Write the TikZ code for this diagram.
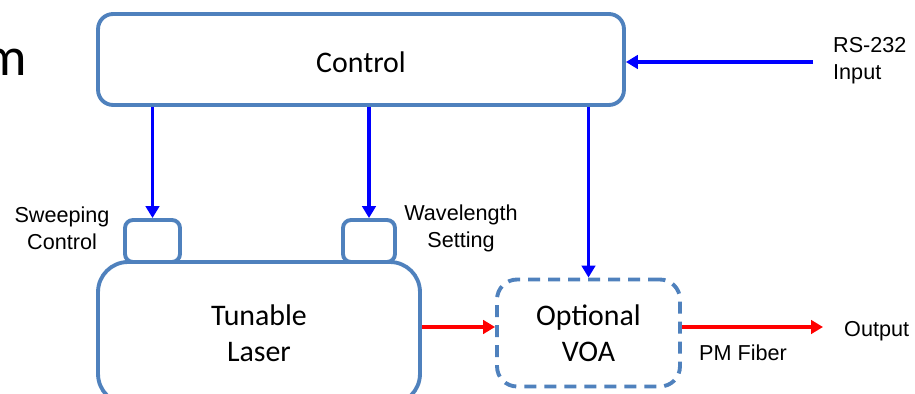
\documentclass[tikz,border=0pt]{standalone}
\usepackage{fontspec}
\setmainfont{Carlito}
\newfontfamily\labelfont{Liberation Sans}
\usepackage{tikz}
\usetikzlibrary{positioning, calc, arrows.meta}

\definecolor{boxblue}{HTML}{4F81BD}

\tikzset{
  blockbox/.style={draw=boxblue, line width=2.2pt, fill=white, align=center,
    font=\fontsize{17}{20.5}\selectfont},
  portbox/.style={draw=boxblue, line width=2.2pt, fill=white, rounded corners=0.16cm,
    minimum height=0.84cm},
  ctrlarrow/.style={draw={rgb,255:red,0;green,0;blue,255}, line width=2pt,
    -{Triangle[length=0.24cm,width=0.27cm]}},
  fiberarrow/.style={draw={rgb,255:red,255;green,0;blue,0}, line width=2pt,
    -{Triangle[length=0.24cm,width=0.27cm]}},
  smalltext/.style={font=\labelfont\fontsize{12.3}{15.3}\selectfont, align=center}
}

\begin{document}
\begin{tikzpicture}[x=0.02cm, y=-0.02cm]
                \useasboundingbox (0,0) rectangle (915,394);
                \clip (0,0) rectangle (915,394);
                % cut-off title on the left
                \node[anchor=base east, inner sep=0pt, font=\fontsize{31}{36}\selectfont] (title) at (27,76) {m};
                % blocks
                \node[blockbox, rounded corners=0.3cm, text height=15pt, minimum width=10.52cm, minimum height=1.82cm] (ctrl) at (361,59.5) {Control};
                \node[blockbox, rounded corners=0.6cm, minimum width=6.44cm, minimum height=2.84cm] (laser) at (259,333) {Tunable\\Laser};
                \node[portbox, minimum width=1.1cm] (sweep) at (152.5,241) {};
                \node[portbox, minimum width=1.04cm] (wave) at (369,241) {};
                \node[blockbox, rounded corners=0.4cm, dash pattern=on 0.24cm off 0.16cm, minimum width=3.66cm, minimum height=2.14cm] (voa) at (588.5,333) {Optional\\VOA};
                % labels
                \node[smalltext] (sweeplbl) at (62,228) {Sweeping\\Control};
                \node[smalltext] (wavelbl) at (461,228) {Wavelength\\Setting};
                \node[smalltext, align=left, anchor=west] (rslbl) at (827,61) {RS-232\\Input};
                \node[smalltext, anchor=west] (outlbl) at (838,331) {Output};
                \node[smalltext, anchor=west] (pmlbl) at (693,353) {PM Fiber};
                \coordinate (rsin) at (813,62);
                \coordinate (out) at (823,327);
                % control lines
                \draw[ctrlarrow] (ctrl.south -| sweep.north) -- (sweep.north);
                \draw[ctrlarrow] (ctrl.south -| wave.north) -- (wave.north);
                \draw[ctrlarrow] (ctrl.south -| voa.north) -- (voa.north);
                \draw[ctrlarrow] (rsin) -- (rsin -| ctrl.east);
                % optical path
                \draw[fiberarrow] (laser.east |- out) -- (out -| voa.west);
                \draw[fiberarrow] (voa.east |- out) -- (out);
            \end{tikzpicture}
\end{document}
